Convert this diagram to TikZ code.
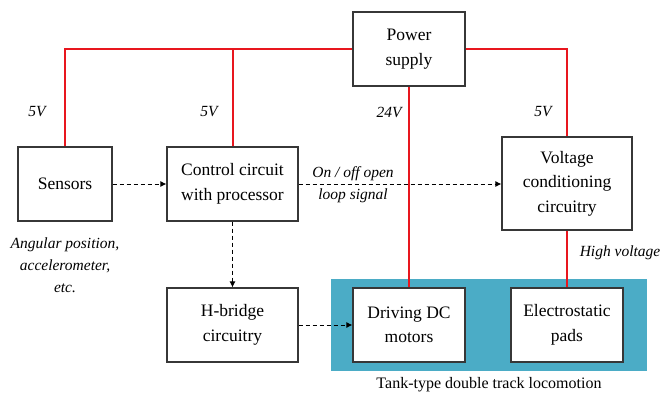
\documentclass[tikz,border=0pt]{standalone}
\usepackage{fontspec}
\setmainfont{Liberation Serif}
\usetikzlibrary{arrows.meta}
\definecolor{pwr}{RGB}{232,22,30}
\definecolor{tank}{RGB}{75,172,198}
\definecolor{edge}{RGB}{55,55,55}
\tikzset{
  blockbox/.style={draw=edge, line width=1.1pt, fill=white, rectangle, align=center, inner sep=0pt,
    font=\fontsize{17.5}{24.5}\selectfont},
  redwire/.style={draw=pwr, line width=2pt},
  sigarrow/.style={draw=black, line width=1pt, dash pattern=on 4pt off 3pt,
    -{Latex[length=6pt,width=6pt]}},
  lbl/.style={font=\fontsize{15.5}{21.5}\selectfont\itshape, align=center, inner sep=0pt},
  caption/.style={font=\fontsize{16}{20}\selectfont, inner sep=0pt}
}
\begin{document}
\begin{tikzpicture}[x=1pt,y=-1pt]
\useasboundingbox (0,0) rectangle (662,392);
\fill[tank] (331,279) rectangle (647,371);

\node[blockbox, minimum width=112pt, minimum height=74pt] (power) at (409,49) {Power\\supply};
\node[blockbox, minimum width=94pt, minimum height=74pt] (sensors) at (65,184) {Sensors};
\node[blockbox, minimum width=131pt, minimum height=74pt] (control) at (232.5,184) {Control circuit\\with processor};
\node[blockbox, minimum width=130pt, minimum height=93pt] (voltage) at (567,183.5) {Voltage\\conditioning\\circuitry};
\node[blockbox, minimum width=131pt, minimum height=74pt] (hbridge) at (232.5,325) {H-bridge\\circuitry};
\node[blockbox, minimum width=112pt, minimum height=74pt] (driving) at (409,325) {Driving DC\\motors};
\node[blockbox, minimum width=112pt, minimum height=74pt] (electro) at (567,325) {Electrostatic\\pads};

% power wires
\draw[redwire] (power.west) -- (sensors.north |- power.west) -- (sensors.north);
\draw[redwire] (control.north |- power.west) -- (control.north);
\draw[redwire] (power.east) -| (voltage.north);
\draw[redwire] (power.south) -- (driving.north);
\draw[redwire] (voltage.south) -- (electro.north);

% signal arrows
\draw[sigarrow] (sensors.east) -- (control.west);
\draw[sigarrow] (control.east) -- (control.east -| voltage.west);
\draw[sigarrow] (control.south) -- (hbridge.north);
\draw[sigarrow] (hbridge.east) -- (driving.west);

% labels
\node[lbl] (v1) at (37,112) {5V};
\node[lbl] (v2) at (209,112) {5V};
\node[lbl] (v3) at (389,112) {24V};
\node[lbl] (v4) at (543,112) {5V};
\node[lbl] (onoff) at (353,184.5) {On / off open\\loop signal};
\node[lbl, font=\fontsize{15.5}{22}\selectfont\itshape] (sens) at (65,265) {Angular position,\\accelerometer,\\etc.};
\node[lbl] (hv) at (620,253) {High voltage};
\node[caption] (tankcap) at (489,385) {Tank-type double track locomotion};
\end{tikzpicture}
\end{document}
